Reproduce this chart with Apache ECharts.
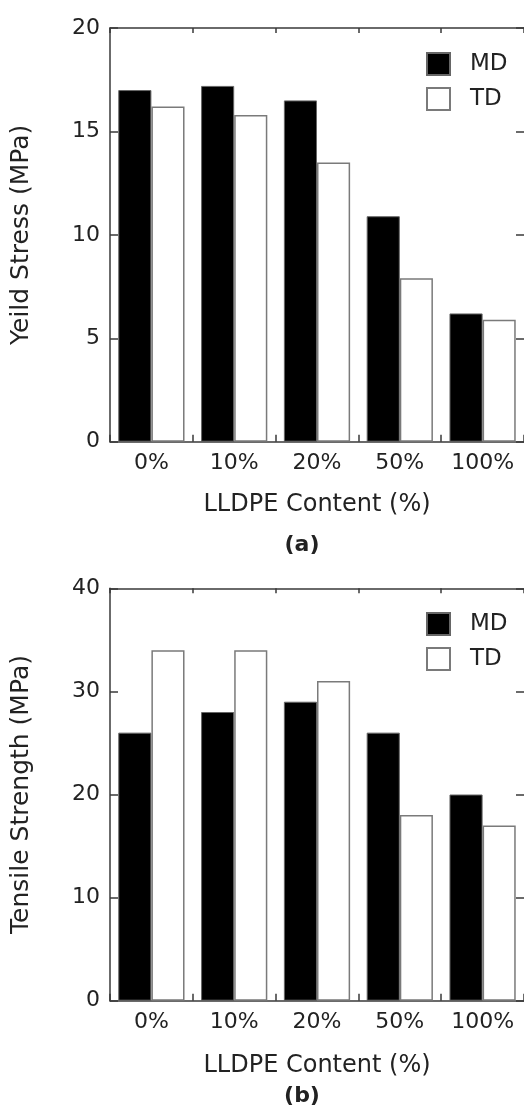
<!DOCTYPE html>
<html>
<head>
<meta charset="utf-8">
<script src="https://cdn.jsdelivr.net/npm/echarts@6/dist/echarts.min.js"></script>
<style>
  html, body { margin: 0; padding: 0; background: #fff; }
  #chart { width: 524px; height: 1107px; }
</style>
</head>
<body>
<div id="chart"></div>
<script>
// LLDPE content levels
const categories = ['0%', '10%', '20%', '50%', '100%'];

// (a) yield stress, MPa
const yieldMD = [17.0, 17.2, 16.5, 10.9, 6.2];
const yieldTD = [16.2, 15.8, 13.5, 7.9, 5.9];

// (b) tensile strength, MPa
const tensileMD = [26, 28, 29, 26, 20];
const tensileTD = [34, 34, 31, 18, 17];

// value-axis ticks
const yieldTicks = { min: 0, max: 20, interval: 5 };
const tensileTicks = { min: 0, max: 40, interval: 10 };

const FONT = 'DejaVu Sans';
const INK = '#222';
const FRAME = '#3a3a3a';

const chart = echarts.init(document.getElementById('chart'), null, { renderer: 'canvas' });

const frameLine = { show: true, onZero: false, lineStyle: { color: FRAME, width: 1.5 } };

function bottomX(grid, name, gap) {
  return {
    type: 'category', gridIndex: grid, data: categories, position: 'bottom',
    axisLine: frameLine,
    axisTick: { show: true, inside: true, length: 7, lineStyle: { color: FRAME, width: 1.5 } },
    axisLabel: { color: INK, fontFamily: FONT, fontSize: 22, margin: 11 },
    name: name, nameLocation: 'middle', nameGap: gap,
    nameTextStyle: { color: INK, fontFamily: FONT, fontSize: 24 }
  };
}
function topX(grid) {
  return {
    type: 'category', gridIndex: grid, data: categories, position: 'top',
    axisLine: frameLine,
    axisTick: { show: true, inside: true, length: 5, lineStyle: { color: FRAME, width: 1.5 } },
    axisLabel: { show: false }
  };
}
function leftY(grid, ticks, name, gap) {
  return {
    type: 'value', gridIndex: grid, position: 'left',
    min: ticks.min, max: ticks.max, interval: ticks.interval,
    axisLine: frameLine,
    axisTick: { show: true, inside: true, length: 8, lineStyle: { color: FRAME, width: 1.5 } },
    axisLabel: { color: INK, fontFamily: FONT, fontSize: 22, margin: 10 },
    splitLine: { show: false },
    name: name, nameLocation: 'middle', nameGap: gap,
    nameTextStyle: { color: INK, fontFamily: FONT, fontSize: 25 }
  };
}
// right-hand frame edge sits just past the page edge; only its inward ticks show
function rightY(grid, ticks) {
  return {
    type: 'value', gridIndex: grid, position: 'right',
    min: ticks.min, max: ticks.max, interval: ticks.interval,
    axisLine: { show: false },
    axisTick: { show: true, inside: true, length: 8, lineStyle: { color: FRAME, width: 1.5 } },
    axisLabel: { show: false },
    splitLine: { show: false }
  };
}

const mdStyle = { color: '#000', borderColor: '#666', borderWidth: 1 };
const tdStyle = { color: '#fff', borderColor: '#7a7a7a', borderWidth: 1.5 };

function bars(name, data, xi, yi, style) {
  return {
    type: 'bar', name: name, data: data, xAxisIndex: xi, yAxisIndex: yi,
    barGap: '0%', barCategoryGap: '20%', itemStyle: style,
    emphasis: { disabled: true }, animation: false
  };
}

function legendAt(top) {
  return {
    orient: 'vertical', left: 426, top: top, padding: 0,
    itemWidth: 23, itemHeight: 22, itemGap: 11,
    icon: 'rect',
    textStyle: { color: INK, fontFamily: FONT, fontSize: 23, padding: [0, 0, 0, 15] },
    data: ['MD', 'TD'], selectedMode: false
  };
}

chart.setOption({
  animation: false,
  backgroundColor: '#fff',
  grid: [
    { left: 110, top: 28, width: 418, height: 413.7, containLabel: false },
    { left: 110, top: 588.3, width: 418, height: 412.4, containLabel: false }
  ],
  xAxis: [
    bottomX(0, 'LLDPE Content (%)', 51),
    topX(0),
    bottomX(1, 'LLDPE Content (%)', 53),
    topX(1)
  ],
  yAxis: [
    leftY(0, yieldTicks, 'Yeild Stress (MPa)', 76),
    rightY(0, yieldTicks),
    leftY(1, tensileTicks, 'Tensile Strength (MPa)', 76),
    rightY(1, tensileTicks)
  ],
  legend: [legendAt(52), legendAt(612)],
  series: [
    bars('MD', yieldMD, 0, 0, mdStyle),
    bars('TD', yieldTD, 0, 0, tdStyle),
    bars('MD', tensileMD, 2, 2, mdStyle),
    bars('TD', tensileTD, 2, 2, tdStyle)
  ],
  graphic: [
    { type: 'text', x: 302, y: 545, style: { text: '(a)', fill: INK, font: 'bold 22px "DejaVu Sans"', textAlign: 'center', textVerticalAlign: 'middle' } },
    { type: 'text', x: 302, y: 1096, style: { text: '(b)', fill: INK, font: 'bold 22px "DejaVu Sans"', textAlign: 'center', textVerticalAlign: 'middle' } }
  ]
});
</script>
</body>
</html>
